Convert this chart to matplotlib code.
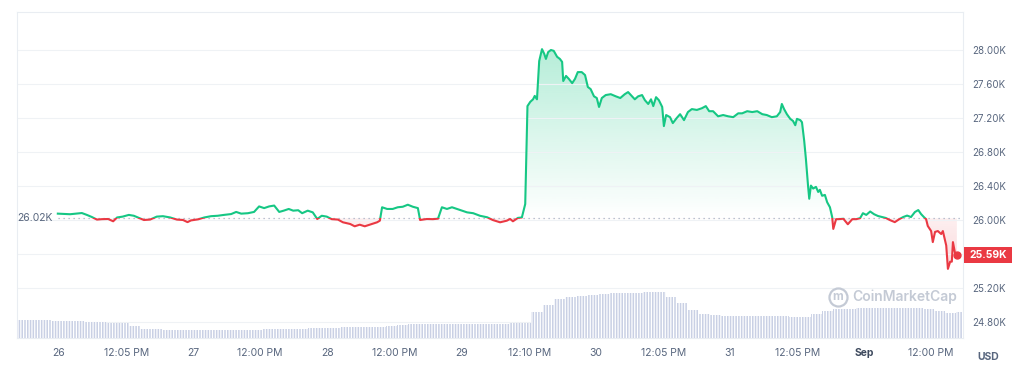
import numpy as np
import matplotlib
matplotlib.use("Agg")
import matplotlib.pyplot as plt
from matplotlib.patches import Rectangle
from matplotlib.lines import Line2D
import matplotlib.transforms as mtransforms

plt.rcParams['font.family'] = ['Inter', 'DejaVu Sans']
plt.rcParams['hatch.linewidth'] = 0.9
plt.rcParams['hatch.color'] = 'white'

# hours since Aug 26 00:00 and BTC price (USD)
hours = [-0.2, 2.0, 4.1, 5.0, 5.9, 6.8, 7.7, 8.8, 9.7, 10.4, 11.4, 12.5, 13.4, 14.3, 15.2, 16.3,
         17.5, 18.6, 19.9, 21.1, 22.2, 23.0, 23.6, 24.9, 26.0, 27.2, 28.4, 29.5, 30.8, 31.7, 32.6,
         33.8, 34.9, 35.8, 36.7, 37.6, 38.5, 39.4, 40.2, 41.1, 41.9, 42.8, 43.5, 44.5, 45.4, 46.2,
         47.0, 47.9, 48.8, 49.9, 50.8, 52.1, 52.9, 53.8, 54.7, 55.6, 56.9, 57.4, 57.8, 58.7, 59.7,
         60.6, 61.5, 62.4, 63.3, 64.2, 64.6, 65.8, 66.9, 67.8, 68.5, 69.4, 70.3, 71.2, 72.1, 73.0,
         74.1, 75.3, 76.6, 77.6, 78.9, 80.1, 80.7, 81.2, 82.1, 82.8, 83.4, 83.8, 84.3, 84.8, 85.1,
         85.5, 85.9, 86.4, 86.8, 87.1, 87.5, 88.0, 88.5, 89.1, 89.6, 90.0, 90.2, 90.7, 91.2, 91.8,
         92.3, 92.8, 93.5, 94.1, 94.6, 95.1, 95.7, 96.2, 96.6, 97.1, 97.8, 98.7, 99.6, 100.4, 101.2,
         101.8, 102.5, 103.0, 103.6, 104.3, 104.8, 105.4, 105.9, 106.3, 106.8, 107.3, 107.9, 108.2,
         108.6, 109.3, 109.8, 110.5, 111.1, 111.8, 112.5, 113.2, 114.1, 115.0, 115.7, 116.3, 117.0,
         117.9, 118.8, 119.7, 120.6, 121.5, 122.2, 123.1, 124.0, 124.9, 125.8, 126.6, 127.5, 128.4,
         129.0, 129.3, 129.7, 130.2, 130.8, 131.3, 131.7, 132.0, 132.6, 132.9, 133.3, 133.6, 134.0,
         134.2, 134.5, 134.9, 135.4, 135.8, 136.1, 136.5, 137.0, 137.4, 137.9, 138.3, 138.5, 139.0,
         139.4, 140.3, 141.1, 141.9, 142.6, 143.3, 143.8, 144.4, 145.1, 145.8, 146.5, 147.2, 147.9,
         148.6, 149.5, 150.3, 151.0, 151.7, 152.4, 153.1, 153.7, 154.2, 154.7, 155.1, 155.4, 156.0,
         156.3, 156.7, 157.2, 157.8, 158.1, 158.7, 159.0, 159.4, 159.7, 159.9, 160.3, 160.6]
price = [26075, 26068, 26082, 26060, 26035, 26005, 26010, 26012, 25985, 26030, 26040, 26060, 26050,
         26025, 26000, 26005, 26040, 26045, 26030, 26005, 26000, 25975, 25995, 26008, 26030, 26045,
         26050, 26060, 26070, 26095, 26075, 26080, 26095, 26160, 26140, 26160, 26170, 26095, 26110,
         26130, 26110, 26115, 26080, 26110, 26090, 26012, 26050, 26040, 26010, 26005, 25973, 25953,
         25926, 25945, 25926, 25945, 25973, 25992, 26150, 26130, 26130, 26150, 26156, 26180, 26156,
         26140, 26000, 26012, 26010, 26016, 26150, 26130, 26150, 26130, 26110, 26090, 26080, 26050,
         26032, 26000, 25973, 25992, 26012, 25985, 26025, 26030, 26188, 27340, 27390, 27420, 27460,
         27420, 27870, 28010, 27955, 27895, 27975, 28000, 27990, 27920, 27895, 27860, 27635, 27695,
         27660, 27610, 27660, 27740, 27740, 27705, 27565, 27540, 27455, 27435, 27330, 27435, 27470,
         27480, 27455, 27435, 27480, 27505, 27455, 27420, 27455, 27470, 27410, 27365, 27420, 27340,
         27445, 27410, 27330, 27105, 27235, 27210, 27140, 27200, 27245, 27175, 27270, 27305, 27295,
         27315, 27340, 27280, 27280, 27220, 27235, 27220, 27210, 27255, 27255, 27280, 27270, 27280,
         27245, 27235, 27210, 27220, 27270, 27365, 27305, 27245, 27190, 27165, 27115, 27190, 27175,
         27150, 26930, 26720, 26390, 26250, 26405, 26370, 26390, 26330, 26355, 26285, 26295, 26210,
         26150, 26035, 25895, 26010, 26010, 26015, 25950, 26010, 26010, 26022, 26080, 26060, 26100,
         26068, 26047, 26035, 26024, 26000, 25975, 26010, 26035, 26052, 26035, 26094, 26117, 26070,
         26035, 26010, 25930, 25870, 25740, 25860, 25870, 25835, 25870, 25700, 25425, 25510, 25510,
         25740, 25600, 25590]

# 2-hour volume bins starting at Aug 25 16:30 (billions USD)
volume = [7.2, 7.2, 7.2, 6.8, 6.8, 6.8, 6.5, 6.5, 6.1, 6.1, 4.8, 3.8, 3.5, 3.2, 3.2, 3.2, 3.2,
          3.2, 3.2, 3.2, 3.2, 3.2, 3.6, 3.6, 3.6, 3.8, 3.9, 3.9, 4.2, 4.3, 4.3, 4.3, 4.4, 4.9,
          5.3, 5.7, 5.7, 5.7, 5.7, 5.7, 5.7, 5.7, 5.7, 5.7, 6.2, 5.9, 10.4, 13.2, 15.8, 16.6,
          17.0, 17.4, 17.8, 18.0, 18.1, 18.2, 18.3, 18.6, 16.4, 14.0, 11.4, 9.8, 9.4, 9.0, 8.8,
          8.8, 8.8, 8.8, 8.8, 8.6, 8.6, 9.8, 10.8, 11.6, 11.8, 12.0, 12.0, 12.0, 12.0, 12.0,
          12.0, 11.6, 11.0, 10.0, 10.4]
vol_start = -7.5

open_price = 26020
tick_hours = [0, 12.083, 24, 36, 48, 60, 72, 84.167, 96, 108.083, 120, 132.083, 144, 156]
tick_labels = ['26', '12:05 PM', '27', '12:00 PM', '28', '12:00 PM', '29', '12:10 PM',
               '30', '12:05 PM', '31', '12:05 PM', 'Sep', '12:00 PM']
price_ticks = [24800, 25200, 25600, 26000, 26400, 26800, 27200, 27600, 28000]

green = '#16c784'
red = '#ea3943'
txt = '#58667e'

fig = plt.figure(figsize=(10.24, 3.67), dpi=100)
rect = [17 / 1024, 29 / 367, 946 / 1024, 326 / 367]
ax = fig.add_axes(rect)

h = np.array(hours)
p = np.array(price)

# gradient fill between price and opening price
poly = ax.fill_between(h, p, open_price, facecolor='none', edgecolor='none')
clip = poly.get_paths()[0]
g = np.zeros((256, 1, 4))
g[:, 0, :3] = matplotlib.colors.to_rgb(green)
g[:, 0, 3] = np.linspace(0.0, 0.32, 256)
im = ax.imshow(g, extent=[-7.5, 161.7, open_price, 28050], origin='lower', aspect='auto', zorder=1)
im.set_clip_path(clip, transform=ax.transData)
r = np.zeros((256, 1, 4))
r[:, 0, :3] = matplotlib.colors.to_rgb(red)
r[:, 0, 3] = np.linspace(0.2, 0.08, 256)
im2 = ax.imshow(r, extent=[-7.5, 161.7, 25400, open_price], origin='lower', aspect='auto', zorder=1)
im2.set_clip_path(clip, transform=ax.transData)
ax.set_xlim(-7.5, 161.7)
ax.set_ylim(24612, 28447)

# price line, green above the open and red below
up, = ax.plot(h, p, color=green, lw=1.5, zorder=3, solid_joinstyle='round')
dn, = ax.plot(h, p, color=red, lw=1.5, zorder=3, solid_joinstyle='round')
up.set_clip_path(Rectangle((-10, open_price), 200, 5000, transform=ax.transData))
dn.set_clip_path(Rectangle((-10, 20000), 200, open_price - 20000, transform=ax.transData))
ax.plot(h[-1], p[-1], 'o', color=red, ms=5, zorder=4)

ax.plot([h[0], 161.7], [open_price, open_price], color='#a6b0c3', lw=0.9,
        linestyle=(0, (1, 3)), zorder=2)
ax.text(h[0] - 1.0, open_price, '26.02K', ha='right', va='center', fontsize=7.5, color=txt)

# axes styling
ax.yaxis.tick_right()
ax.set_yticks(price_ticks)
ax.set_yticklabels([f'{v / 1000:.2f}K' if v != 25600 else '' for v in price_ticks])
ax.set_xticks(tick_hours)
ax.set_xticklabels(tick_labels)
ax.tick_params(axis='y', length=0, pad=7, labelsize=7, labelcolor=txt)
ax.tick_params(axis='x', length=0, pad=7, labelsize=7.5, labelcolor=txt)
ax.get_xticklabels()[12].set_fontweight('bold')
ax.get_xticklabels()[12].set_color('#3e4a5e')
ax.grid(axis='y', color='#eff2f5', lw=0.8)
for s in ax.spines.values():
    s.set_color('#e9edf2')
    s.set_linewidth(0.8)

# current price tag
trans = mtransforms.blended_transform_factory(ax.transAxes, ax.transData)
ax.add_patch(Rectangle((1.001, p[-1] - 90), 0.051, 180, transform=trans, facecolor=red,
                       edgecolor='none', clip_on=False, zorder=5))
ax.text(1.0265, p[-1], f'{p[-1] / 1000:.2f}K', transform=trans, ha='center', va='center',
        fontsize=7.5, color='white', fontweight='bold', zorder=6, clip_on=False)

# volume bars on top of the price axes
axv = fig.add_axes(rect, sharex=ax)
axv.patch.set_alpha(0)
vx = vol_start + 2 * np.arange(len(volume))
axv.bar(vx, volume, width=2, align='edge', color='#c9d0e4', edgecolor='white',
        linewidth=0, hatch='||||||')
axv.set_ylim(0, 130.4)
axv.axis('off')
axv.set_xlim(-7.5, 161.7)

# watermark
wm = '#c4cad5'
fig.text(852 / 1024, 1 - 297 / 367, 'CoinMarketCap', fontsize=10, fontweight='semibold',
         color=wm, va='center', ha='left')
fig.add_artist(Line2D([838 / 1024], [1 - 297 / 367], transform=fig.transFigure, marker='o',
                      ms=13, mfc='none', mec=wm, mew=1.6, linestyle='none'))
fig.text(838 / 1024, 1 - 297.5 / 367, 'm', fontsize=8.5, fontweight='bold', color=wm,
         ha='center', va='center')
fig.text(988 / 1024, 1 - 357 / 367, 'USD', fontsize=7.5, fontweight='bold', color=txt,
         ha='center', va='center')

fig.savefig('out.png', dpi=100, facecolor='white')
